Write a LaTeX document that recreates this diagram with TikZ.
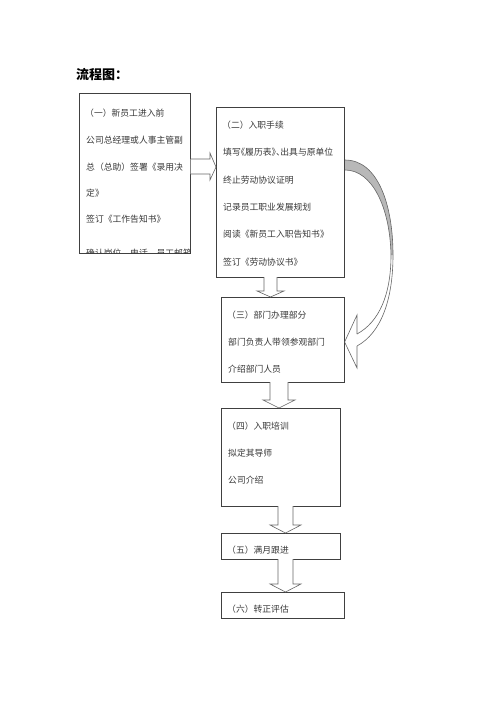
\documentclass[tikz,border=0pt]{standalone}
\usepackage{fontspec}
\newfontfamily\cjk{Noto Sans CJK SC}
\newfontfamily\cjkhalt[RawFeature=+halt]{Noto Sans CJK SC}
\begin{document}
\begin{tikzpicture}[x=1pt,y=-1pt,
  box/.style={draw=black!75,line width=0.6pt,fill=white,minimum width=#1,anchor=north west,inner sep=0pt},
  tl/.style={anchor=west,inner sep=0pt,text=black!78,font=\cjk\fontsize{8.8pt}{10pt}\selectfont},
  barrow/.style={draw=black!60,line width=0.6pt,fill=white,line join=miter}]
\useasboundingbox[fill=white] (0,0) rectangle (500,707);
% title
\node[anchor=west,inner sep=0pt,font=\cjk\bfseries\fontsize{13pt}{15pt}\selectfont] (title) at (76,75) {流程图：};
% boxes
\node[box=111pt,minimum height=160pt] (b1) at (79,93) {};
\node[box=128pt,minimum height=170pt] (b2) at (216,107) {};
\node[box=123pt,minimum height=85pt] (b3) at (221,297) {};
\node[box=119pt,minimum height=98pt] (b4) at (221,408) {};
\node[box=119pt,minimum height=26pt] (b5) at (221,533) {};
\node[box=123pt,minimum height=26pt] (b6) at (221,592) {};
% box 1 text
\begin{scope}
\clip (b1.north west) rectangle (b1.south east);
\node[tl] (t11) at (85,113) {（一）新员工进入前};
\node[tl] (t12) at (86,140) {公司总经理或人事主管副};
\node[tl] (t13) at (86,167) {总（总助）签署《录用决};
\node[tl] (t14) at (86,193) {定》};
\node[tl] (t15) at (86,219) {签订《工作告知书》};
\node[tl] (t16) at (86,253) {确认岗位、电话、员工邮箱};
\end{scope}
% box 2 text
\node[tl] (t21) at (222,125) {（二）入职手续};
\node[tl,font=\cjkhalt\fontsize{8.8pt}{10pt}\selectfont] (t22) at (223,152) {填写《履历表》、出具与原单位};
\node[tl] (t23) at (223,180) {终止劳动协议证明};
\node[tl] (t24) at (223,207) {记录员工职业发展规划};
\node[tl] (t25) at (223,234) {阅读《新员工入职告知书》};
\node[tl] (t26) at (223,262) {签订《劳动协议书》};
% box 3 text
\node[tl] (t31) at (227,315) {（三）部门办理部分};
\node[tl] (t32) at (228,342) {部门负责人带领参观部门};
\node[tl] (t33) at (228,369) {介绍部门人员};
% box 4 text
\node[tl] (t41) at (227,426) {（四）入职培训};
\node[tl] (t42) at (228,453) {拟定其导师};
\node[tl] (t43) at (228,480) {公司介绍};
% box 5, 6 text
\node[tl] (t51) at (227,550) {（五）满月跟进};
\node[tl] (t61) at (227,609) {（六）转正评估};
% block arrow b1 -> b2
\draw[barrow] (b1.east |- 0,159) -- (210,159) -- (210,153) -- (b2.west |- 0,167) -- (210,180) -- (210,174) -- (b1.east |- 0,174);
% block arrow b2 -> b3
\draw[barrow] (264,277) -- (264,291) -- (257,291) -- (270.5,297) -- (284,291) -- (277,291) -- (277,277);
% block arrow b3 -> b4
\draw[barrow] (270,382) -- (270,400) -- (263,400) -- (279,408) -- (295,400) -- (288,400) -- (288,382);
% block arrow b4 -> b5
\draw[barrow] (278,506) -- (278,525) -- (270,525) -- (285.5,533) -- (301,525) -- (293,525) -- (293,506);
% block arrow b5 -> b6
\draw[barrow] (278,559) -- (278,584) -- (270,584) -- (285.5,592) -- (301,584) -- (293,584) -- (293,559);
% curved arrow b2 -> b3
\fill[black!28] (345,160) .. controls (378,160) and (393,205) .. (393,255) -- (391,255) .. controls (390,207) and (372,170) .. (345,170) -- cycle;
\draw[black!60,line width=0.6pt] (345,160) .. controls (378,160) and (393,205) .. (393,255) .. controls (393,300) and (381,333) .. (357,346);
\draw[black!60,line width=0.6pt] (345,170) .. controls (372,170) and (390,207) .. (391,255) .. controls (391,295) and (379,322) .. (357,334);
\draw[black!60,line width=0.6pt,line join=miter] (357,334) -- (357,315) -- (b3.east |- 0,342) -- (357,368) -- (357,346);
\end{tikzpicture}
\end{document}
